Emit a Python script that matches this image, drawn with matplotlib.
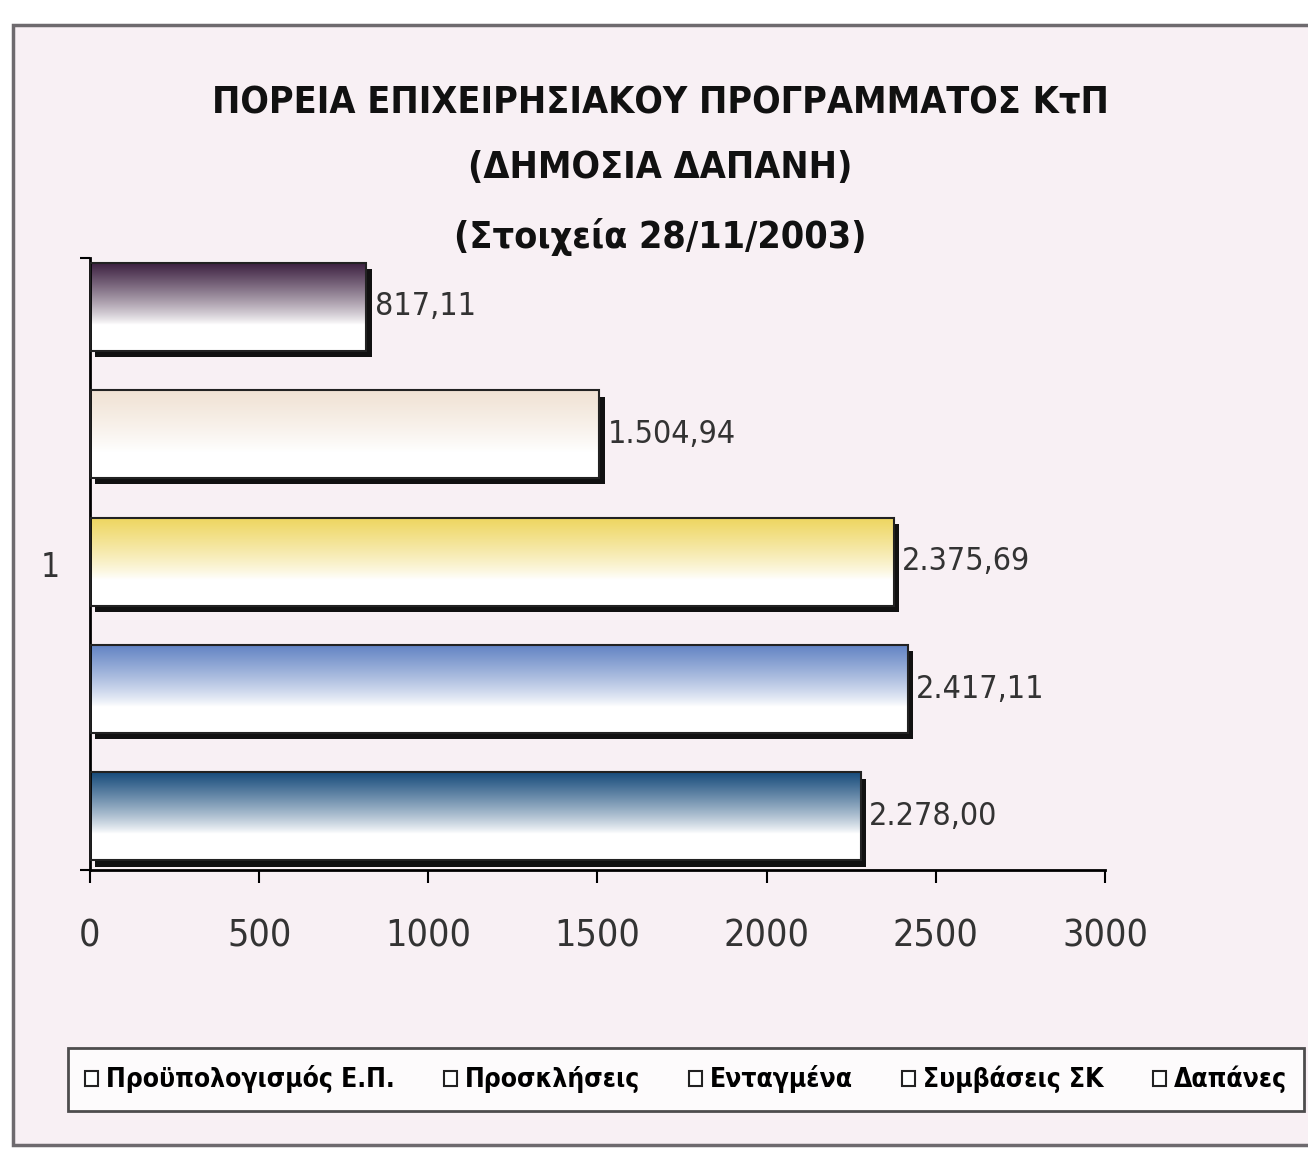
import matplotlib
matplotlib.use('Agg')
import matplotlib.pyplot as plt
from matplotlib.patches import Rectangle
import numpy as np

plt.rcParams['font.family'] = ['DejaVu Sans']
plt.rcParams['font.stretch'] = 'condensed'

# data (bottom -> top, as Excel draws the series)
series = ['Προϋπολογισμός Ε.Π.', 'Προσκλήσεις', 'Ενταγμένα', 'Συμβάσεις ΣΚ', 'Δαπάνες']
values = [2278.00, 2417.11, 2375.69, 1504.94, 817.11]
top_colors = ['#184c7c', '#6384c4', '#eed660', '#f0e2d4', '#3e2242']
xticks = [0, 500, 1000, 1500, 2000, 2500, 3000]
category = '1'
title = ('ΠΟΡΕΙΑ ΕΠΙΧΕΙΡΗΣΙΑΚΟΥ ΠΡΟΓΡΑΜΜΑΤΟΣ ΚτΠ\n'
         '(ΔΗΜΟΣΙΑ ΔΑΠΑΝΗ)\n'
         '(Στοιχεία 28/11/2003)')


def greek_num(v):
    s = f'{v:,.2f}'
    return s.replace(',', 'X').replace('.', ',').replace('X', '.')


def gradient(hexcol, n=120):
    c = np.array(matplotlib.colors.to_rgb(hexcol))
    t = np.linspace(0, 1, n)
    k = np.clip(1 - t / 0.7, 0, 1) ** 0.85
    rows = c[None, :] * k[:, None] + (1 - k[:, None]) * np.ones(3)
    return np.repeat(rows[:, None, :], 2, axis=1)


fig = plt.figure(figsize=(13.08, 11.52), dpi=100)
fig.patch.set_facecolor('white')
fig.patches.append(Rectangle((0.010, 0.006), 1.05, 0.972, transform=fig.transFigure,
                             facecolor='#f8f0f4', edgecolor='#6e6a6e', lw=2.5, zorder=-5))

ax = fig.add_axes([0.0688, 0.2448, 0.776, 0.531])
ax.set_facecolor('none')

h = 0.69
dx, dy = 16, 0.05
for i, (v, col) in enumerate(zip(values, top_colors)):
    y0 = i - h / 2
    ax.add_patch(Rectangle((dx, y0 - dy), v, h, facecolor='#111111', edgecolor='none', zorder=1))
    ax.imshow(gradient(col), extent=(0, v, y0, y0 + h), aspect='auto', origin='upper',
              interpolation='bilinear', zorder=2)
    ax.add_patch(Rectangle((0, y0), v, h, facecolor='none', edgecolor='#222222', lw=1.5, zorder=3))
    ax.text(v + 25, i, greek_num(v), va='center', ha='left', fontsize=23, color='#333333')

ax.set_xlim(0, 3000)
ax.set_ylim(-0.42, 4.38)
ax.set_xticks(xticks)
ax.set_xticklabels([str(t) for t in xticks], fontsize=27, color='#333333')
ax.tick_params(axis='x', direction='out', length=9, width=1.5, pad=26)
ax.set_yticks([1.98])
ax.set_yticklabels([category], fontsize=24, color='#333333')
ax.tick_params(axis='y', length=0, pad=22)
ax.set_yticks([-0.42, 4.38], minor=True)
ax.tick_params(axis='y', which='minor', length=7, width=1.5, direction='out')
for s in ['top', 'right']:
    ax.spines[s].set_visible(False)
ax.spines['bottom'].set_linewidth(2)
ax.spines['left'].set_linewidth(2)

fig.text(0.505, 0.852, title, ha='center', va='center', fontsize=27, fontweight='bold',
         linespacing=2.05, color='#111111')

handles = [Rectangle((0, 0), 1, 1, facecolor='white', edgecolor='#222222', lw=1.5) for _ in series]
leg = fig.legend(handles, series, loc='center left', bbox_to_anchor=(0.042, 0.063), ncol=5,
                 frameon=True, fancybox=False, handlelength=0.5, handleheight=0.5,
                 handletextpad=0.3, columnspacing=1.85, borderpad=0.65,
                 prop={'weight': 'bold', 'size': 19, 'stretch': 'condensed'})
leg.get_frame().set_edgecolor('#222222')
leg.get_frame().set_linewidth(2)
leg.get_frame().set_facecolor('white')

fig.savefig('out.png', dpi=100)
